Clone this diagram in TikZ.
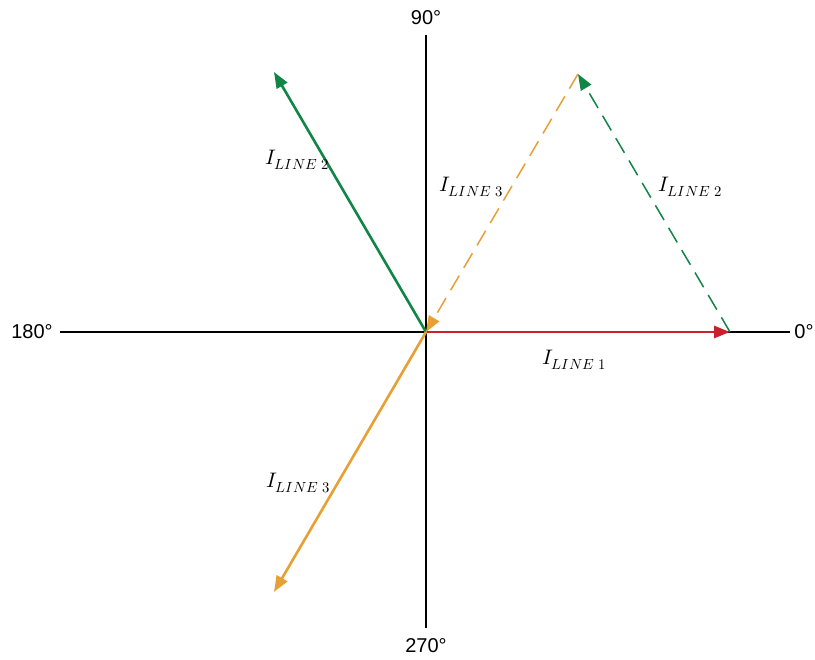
\documentclass[tikz,border=0pt]{standalone}
\usepackage{fontspec}
\setmainfont{Liberation Sans}
\usepackage{unicode-math}
\setmathfont{Latin Modern Math}
\usetikzlibrary{arrows.meta}
\definecolor{cred}{RGB}{200,32,44}
\definecolor{cgreen}{RGB}{16,134,70}
\definecolor{corange}{RGB}{232,160,52}
\tikzset{
  axis/.style={line width=1.6pt, black},
  vec/.style={line width=2.6pt, -{Triangle[length=16pt,width=12pt]}},
  dvec/.style={line width=1.5pt, dash pattern=on 17pt off 9pt, -{Triangle[length=16pt,width=12pt]}},
  axlab/.style={font=\fontsize{20}{24}\selectfont, inner sep=0pt},
  vlab/.style={font=\fontsize{21}{25}\selectfont, inner sep=0pt}
}
\begin{document}
\begin{tikzpicture}[x=1pt,y=-1pt]
\useasboundingbox (0,0) rectangle (815,660);
\coordinate (O) at (426,332);
\coordinate (L) at (60,332);
\coordinate (R) at (790,332);
\coordinate (T) at (426,35);
\coordinate (B) at (426,628);
\coordinate (P1) at (730,332);
\coordinate (P2) at (274,72);
\coordinate (P3) at (274,592);
\coordinate (Q) at (578,74);
\draw[axis] (L) -- (R);
\draw[axis] (T) -- (B);
\node[axlab] (a90) at (426,18) {90°};
\node[axlab] (a180) at (32,332) {180°};
\node[axlab] (a0) at (804,332) {0°};
\node[axlab] (a270) at (426,646) {270°};
\draw[vec, cred] (O) -- (P1);
\draw[vec, cgreen] (O) -- (P2);
\draw[vec, corange] (O) -- (P3);
\draw[dvec, cgreen] (P1) -- (Q);
\draw[dvec, corange] (Q) -- (O);
\node[vlab] (l2a) at (297,160) {$I_{LINE\;2}$};
\node[vlab] (l3a) at (471,187) {$I_{LINE\;3}$};
\node[vlab] (l2b) at (690,187) {$I_{LINE\;2}$};
\node[vlab] (l1) at (574,360) {$I_{LINE\;1}$};
\node[vlab] (l3b) at (298,483) {$I_{LINE\;3}$};
\end{tikzpicture}
\end{document}
